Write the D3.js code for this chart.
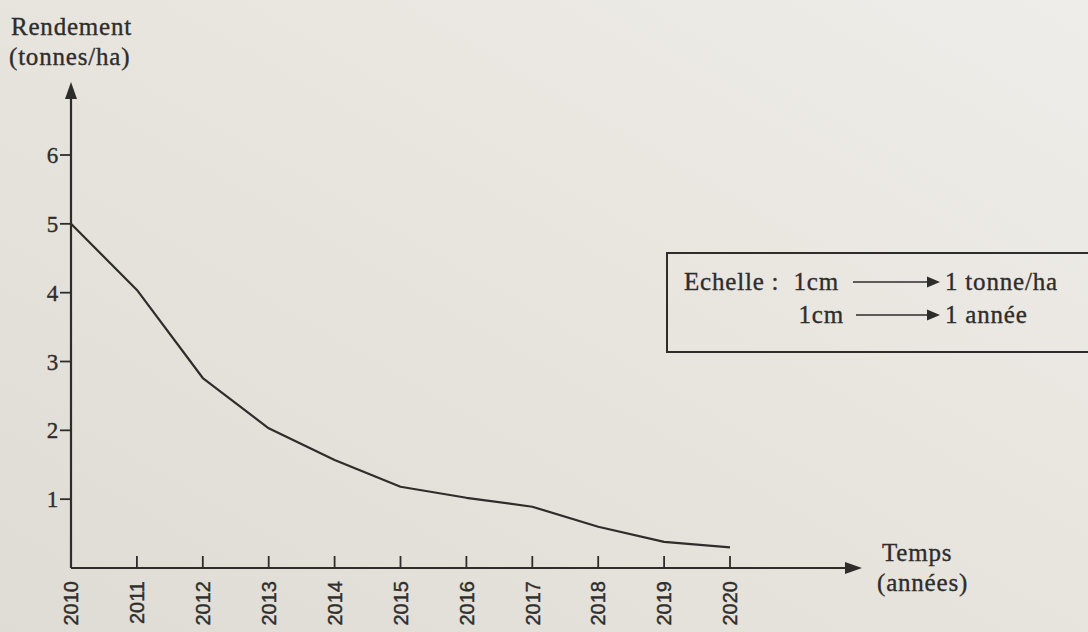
<!DOCTYPE html>
<html>
<head>
<meta charset="utf-8">
<script src="https://cdn.jsdelivr.net/npm/d3@7"></script>
<style>
  html, body { margin: 0; padding: 0; background: #e8e5df; }
  svg { display: block; }
</style>
</head>
<body>
<script>
// chart data
var years = [2010, 2011, 2012, 2013, 2014, 2015, 2016, 2017, 2018, 2019, 2020];
var rendement = [5.0, 4.04, 2.76, 2.03, 1.57, 1.18, 1.02, 0.89, 0.6, 0.38, 0.3];
var yTicks = [1, 2, 3, 4, 5, 6];
var scaleRows = [
  { left: 'Echelle :', unit: '1cm', right: '1 tonne/ha' },
  { left: '', unit: '1cm', right: '1 année' }
];

//svg dimensions
var width = 1088,
    height = 632;

var svg = d3.select('body').append('svg')
  .attr('width', width)
  .attr('height', height);

// paper-like background
var defs = svg.append('defs');
var grad = defs.append('linearGradient')
  .attr('id', 'paper')
  .attr('x1', '0%').attr('y1', '100%')
  .attr('x2', '100%').attr('y2', '0%');
grad.append('stop').attr('offset', '0%').attr('stop-color', '#dfdcd5');
grad.append('stop').attr('offset', '60%').attr('stop-color', '#e9e6e0');
grad.append('stop').attr('offset', '100%').attr('stop-color', '#efede9');

svg.append('rect')
  .attr('width', width)
  .attr('height', height)
  .attr('fill', 'url(#paper)');

var ink = '#2e2d2b';
var serif = "'Liberation Serif', Tinos, 'DejaVu Serif', serif";

// printed serif text, slightly heavy like the photocopy
function serifText(sel, size) {
  return sel
    .attr('font-family', serif)
    .attr('font-size', size)
    .attr('letter-spacing', 0.8)
    .attr('fill', ink)
    .attr('stroke', ink)
    .attr('stroke-width', 0.35);
}

//scales
var x = d3.scaleLinear().domain([2010, 2020]).range([71, 730]);
var y = d3.scaleLinear().domain([0, 6]).range([568, 155]);

var g = svg.append('g');

// arrow heads
function arrowHead(px, py, dir, len, half) {
  // dir: 'up' or 'right'
  var pts = dir === 'up'
    ? [[px, py], [px - half, py + len], [px + half, py + len]]
    : [[px, py], [px - len, py - half], [px - len, py + half]];
  return g.append('path')
    .attr('d', d3.line()(pts) + 'Z')
    .attr('fill', ink);
}

// y axis line
g.append('line')
  .attr('x1', x(2010)).attr('y1', y(0))
  .attr('x2', x(2010)).attr('y2', 92)
  .attr('stroke', ink).attr('stroke-width', 2.2);
arrowHead(x(2010), 82, 'up', 17, 6);

// x axis line
g.append('line')
  .attr('x1', x(2010)).attr('y1', y(0))
  .attr('x2', 850).attr('y2', y(0))
  .attr('stroke', ink).attr('stroke-width', 2.2);
arrowHead(862, y(0), 'right', 17, 6);

// y ticks (left)
var yt = g.selectAll('.ytick').data(yTicks).enter().append('g')
  .attr('class', 'ytick')
  .attr('transform', function(d) { return 'translate(' + x(2010) + ',' + y(d) + ')'; });
yt.append('line')
  .attr('x1', -11).attr('x2', 0)
  .attr('stroke', ink).attr('stroke-width', 1.8);
serifText(yt.append('text'), 23)
  .attr('x', -12)
  .attr('dy', '0.35em')
  .attr('text-anchor', 'end')
  .text(function(d) { return d; });

// x ticks (upwards) and rotated year labels
var xt = g.selectAll('.xtick').data(years).enter().append('g')
  .attr('class', 'xtick')
  .attr('transform', function(d) { return 'translate(' + x(d) + ',' + y(0) + ')'; });
xt.filter(function(d) { return d !== 2010; }).append('line')
  .attr('y1', 0).attr('y2', -12)
  .attr('stroke', ink).attr('stroke-width', 1.8);
xt.append('text')
  .attr('transform', 'translate(0,13) rotate(-90)')
  .attr('dy', '0.36em')
  .attr('text-anchor', 'end')
  .attr('font-family', "'Liberation Sans', Arial, sans-serif")
  .attr('font-size', 20)
  .attr('fill', ink)
  .attr('stroke', ink)
  .attr('stroke-width', 0.4)
  .text(function(d) { return d; });

// the curve (hand-drawn polyline)
var line = d3.line()
  .x(function(d, i) { return x(years[i]); })
  .y(function(d) { return y(d); })
  .curve(d3.curveLinear);

g.append('path')
  .datum(rendement)
  .attr('d', line)
  .attr('fill', 'none')
  .attr('stroke', ink)
  .attr('stroke-width', 2.2)
  .attr('stroke-linejoin', 'round');

// axis titles
var ttl = serifText(g.append('text'), 25);
ttl.append('tspan').attr('x', 11).attr('y', 35).text('Rendement');
ttl.append('tspan').attr('x', 9).attr('y', 65).text('(tonnes/ha)');

var xtl = serifText(g.append('text'), 25);
xtl.append('tspan').attr('x', 882).attr('y', 561).text('Temps');
xtl.append('tspan').attr('x', 877).attr('y', 591).text('(années)');

// scale box
g.append('rect')
  .attr('x', 667).attr('y', 253)
  .attr('width', 440).attr('height', 99)
  .attr('fill', 'none')
  .attr('stroke', ink).attr('stroke-width', 2);

var rowY = [290, 323];
var rows = g.selectAll('.srow').data(scaleRows).enter().append('g')
  .attr('class', 'srow')
  .attr('transform', function(d, i) { return 'translate(0,' + rowY[i] + ')'; });

serifText(rows.append('text'), 25)
  .attr('x', 684)
  .text(function(d) { return d.left; });
serifText(rows.append('text'), 25)
  .attr('x', function(d, i) { return i === 0 ? 839 : 844; })
  .attr('text-anchor', 'end')
  .text(function(d) { return d.unit; });
rows.append('line')
  .attr('x1', function(d, i) { return i === 0 ? 853 : 856; })
  .attr('x2', 930)
  .attr('y1', -8).attr('y2', -8)
  .attr('stroke', ink).attr('stroke-width', 1.6);
rows.append('path')
  .attr('d', 'M940,-8 L927,-13.5 L927,-2.5 Z')
  .attr('fill', ink);
serifText(rows.append('text'), 25)
  .attr('x', 945)
  .text(function(d) { return d.right; });
</script>
</body>
</html>
